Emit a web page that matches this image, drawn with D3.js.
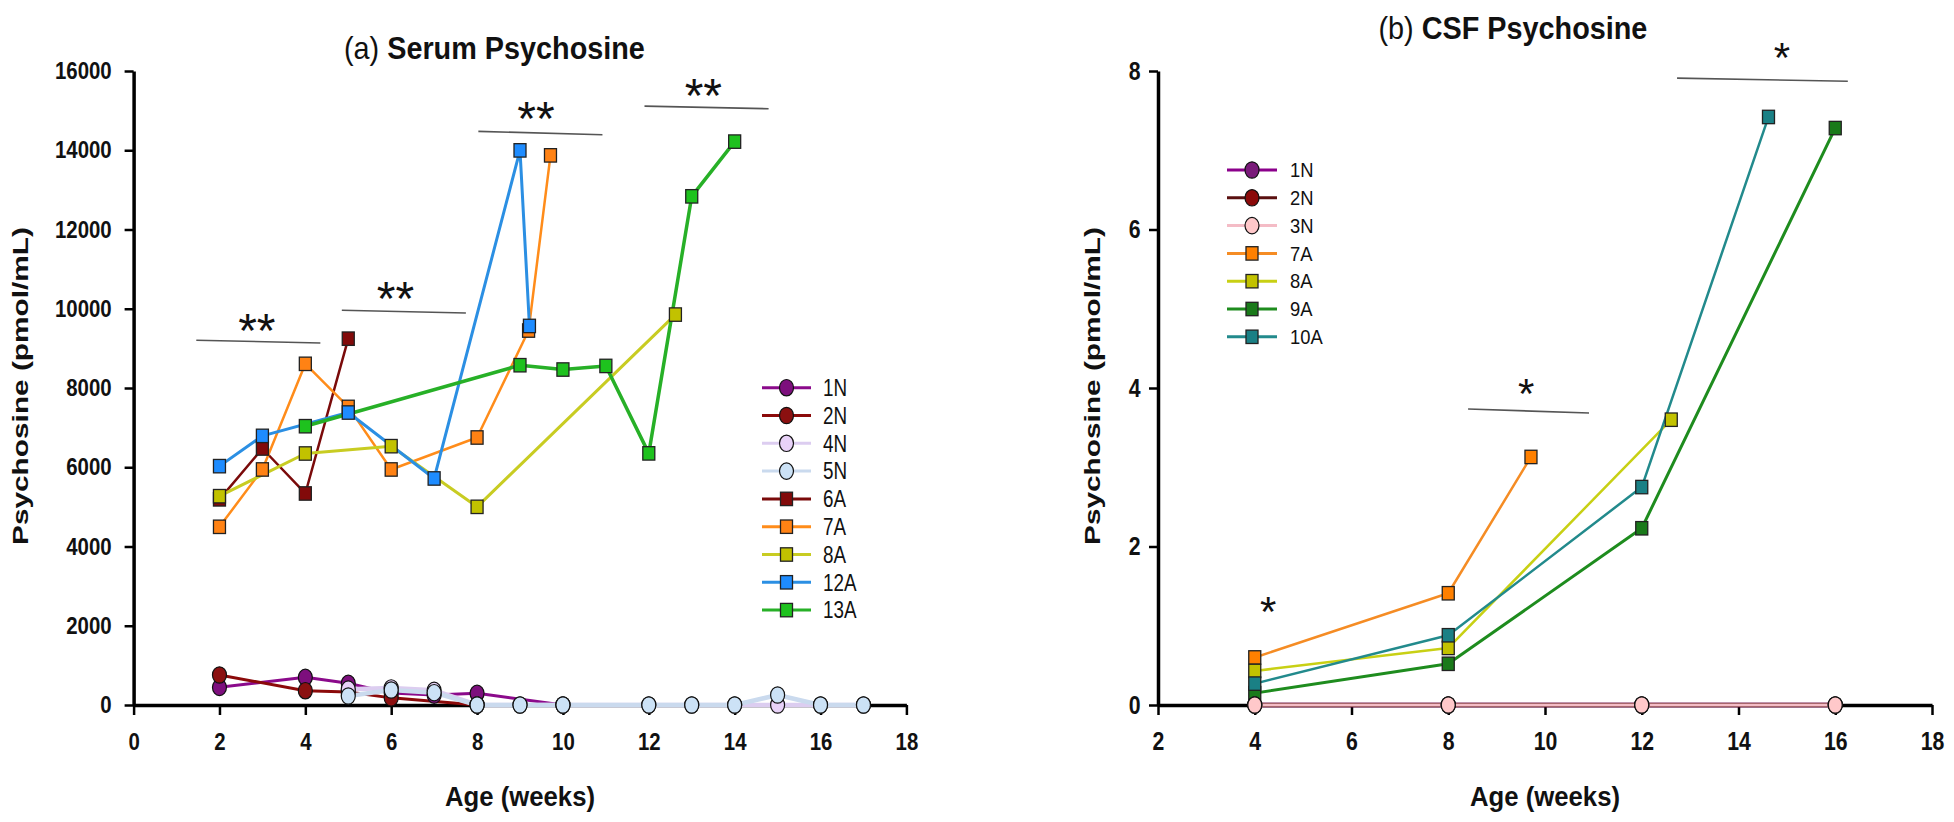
<!DOCTYPE html>
<html><head><meta charset="utf-8">
<script src="https://cdn.jsdelivr.net/npm/d3@7/dist/d3.min.js"></script>
<style>
body{margin:0;background:#fff;}
svg{display:block;font-family:"Liberation Sans",Arial,Helvetica,sans-serif;}
</style></head><body>
<svg id="chart" width="1954" height="822"></svg>
<script>
// ================= DATA =================
// ---- Panel (a) Serum Psychosine ----
const serumXTicks = [0,2,4,6,8,10,12,14,16,18];
const serumYTicks = [0,2000,4000,6000,8000,10000,12000,14000,16000];
const serumSeries = ["1N","2N","4N","5N","6A","7A","8A","12A","13A"];
const serum_1N  = [[2,446],[4,698],[5,547],[6,300],[7,250],[8,294],[10,0]];
const serum_2N  = [[2,757],[4,361],[5,330],[6,180],[8,0]];
const serum_4N  = [[5,400],[6,430],[7,370],[8,0],[9,0],[10,0],[12,0],[13,0],[14,0],[15,0],[16,0],[17,0]];
const serum_5N  = [[5,227],[6,378],[7,311],[8,0],[9,0],[10,0],[12,0],[13,0],[14,0],[15,252],[16,0],[17,0]];
const serum_6A  = [[2,5190],[3,6473],[4,5338],[5,9245]];
const serum_7A  = [[2,4497],[3,5944],[4,8610],[5,7523],[6,5944],[8,6751],[9.2,9450],[9.71,13871]];
const serum_8A  = [[2,5270],[4,6347],[6,6532],[8,5001],[12.62,9853]];
const serum_12A = [[2,6028],[3,6792],[5,7381],[7,5717],[9,13997],[9.22,9566]];
const serum_13A = [[4,7036],[9,8575],[10,8466],[11,8557],[12,6350],[13,12837],[14,14218]];
const serumSigLines = [[1.46,9205,4.35,9137],[4.85,9962,7.74,9894],[8.03,14476,10.92,14393],[11.90,15114,14.79,15048]];
const serumSigMarks = [[2.87,9710,"**"],[6.10,10517,"**"],[9.37,15056,"**"],[13.27,15636,"**"]];

// ---- Panel (b) CSF Psychosine ----
const csfXTicks = [2,4,6,8,10,12,14,16,18];
const csfYTicks = [0,2,4,6,8];
const csfSeries = ["1N","2N","3N","7A","8A","9A","10A"];
const csf_1N  = [[4,0],[8,0],[12,0],[16,0]];
const csf_2N  = [[4,0],[8,0],[12,0],[16,0]];
const csf_3N  = [[4,0],[8,0],[12,0],[16,0]];
const csf_7A  = [[4,0.60],[8,1.41],[9.71,3.13]];
const csf_8A  = [[4,0.43],[8,0.72],[12.61,3.60]];
const csf_9A  = [[4,0.15],[8,0.52],[12,2.23],[16,7.28]];
const csf_10A = [[4,0.27],[8,0.88],[12,2.75],[14.62,7.42]];
const csfSigLines = [[8.41,3.735,10.91,3.685],[12.73,7.91,16.26,7.87]];
const csfSigMarks = [[4.28,1.30,"*"],[9.61,4.04,"*"],[14.9,8.29,"*"]];

// ================= STYLES =================
const serumStyle = {
  "1N":  {line:"#8B0A8B", fill:"#7D0F7D", shape:"circle", w:3},
  "2N":  {line:"#8B0A0A", fill:"#8B1010", shape:"circle", w:3},
  "4N":  {line:"#DCCDF0", fill:"#E8D2F8", shape:"circle", w:4.5},
  "5N":  {line:"#CADAEE", fill:"#CCE2F6", shape:"circle", w:4.5},
  "6A":  {line:"#7A0A0A", fill:"#820A0A", shape:"square", w:2.5},
  "7A":  {line:"#FF8C1A", fill:"#FF8214", shape:"square", w:2.5},
  "8A":  {line:"#C8CC22", fill:"#C2C200", shape:"square", w:3},
  "12A": {line:"#2B8FE3", fill:"#1E8CFF", shape:"square", w:3},
  "13A": {line:"#27B027", fill:"#1EC21E", shape:"square", w:3.5}
};
const csfStyle = {
  "1N":  {line:"#8B008B", fill:"#7A1A7A", shape:"circle", w:4.5},
  "2N":  {line:"#5A1010", fill:"#8B0A0A", shape:"circle", w:4.5},
  "3N":  {line:"#F4BCC6", fill:"#FFC8CA", shape:"circle", w:3},
  "7A":  {line:"#F58C24", fill:"#FF8000", shape:"square", w:2.5},
  "8A":  {line:"#C8D014", fill:"#C2C200", shape:"square", w:2.5},
  "9A":  {line:"#1E8C1E", fill:"#1A7A1A", shape:"square", w:3},
  "10A": {line:"#228A8C", fill:"#1A8085", shape:"square", w:2.5}
};

const serumData = {"1N":serum_1N,"2N":serum_2N,"4N":serum_4N,"5N":serum_5N,"6A":serum_6A,"7A":serum_7A,"8A":serum_8A,"12A":serum_12A,"13A":serum_13A};
const csfData = {"1N":csf_1N,"2N":csf_2N,"3N":csf_3N,"7A":csf_7A,"8A":csf_8A,"9A":csf_9A,"10A":csf_10A};

// ================= DRAW =================
const svg = d3.select("#chart");
svg.append("rect").attr("width",1954).attr("height",822).attr("fill","#fff");
const TSX = 0.85; // horizontal squeeze of tick labels

function drawPanel(cfg){
  const x = d3.scaleLinear().domain(cfg.xDomain).range(cfg.xRange);
  const y = d3.scaleLinear().domain(cfg.yDomain).range(cfg.yRange);
  const g = svg.append("g");

  // axes
  const gx = g.append("g").attr("transform",`translate(0,${cfg.yRange[0]})`)
    .call(d3.axisBottom(x).tickValues(cfg.xTicks).tickSize(10).tickPadding(cfg.xPad).tickSizeOuter(0).tickFormat(d3.format("d")));
  const gy = g.append("g").attr("transform",`translate(${cfg.xRange[0]},0)`)
    .call(d3.axisLeft(y).tickValues(cfg.yTicks).tickSize(9).tickPadding(cfg.yPad/TSX - 9 + 9*(1/TSX - 1) + 0).tickSizeOuter(0).tickFormat(d3.format("d")));
  [gx,gy].forEach(a=>{
    a.select(".domain").attr("stroke","#000").attr("stroke-width",3.5);
    a.selectAll(".tick line").attr("stroke","#000").attr("stroke-width",2.5);
    a.selectAll(".tick text").attr("fill","#111").attr("font-size",cfg.tickFs).attr("font-weight","bold")
      .attr("font-family",'"Liberation Sans",Arial,sans-serif')
      .attr("transform",`scale(${TSX},1)`);
  });

  // lines
  const line = d3.line().x(d=>x(d[0])).y(d=>y(d[1]));
  cfg.series.forEach(k=>{
    const st = cfg.style[k];
    g.append("path").datum(cfg.data[k]).attr("d",line).attr("fill","none")
      .attr("stroke",st.line).attr("stroke-width",st.w).attr("stroke-linejoin","round");
  });
  // markers
  function marker(sel, st, cx, cy){
    if(st.shape==="circle"){
      sel.append("ellipse").attr("cx",cx).attr("cy",cy).attr("rx",7).attr("ry",8.2)
        .attr("fill",st.fill).attr("stroke","#111").attr("stroke-width",1.2);
    } else {
      sel.append("rect").attr("x",cx-6).attr("y",cy-6.7).attr("width",12).attr("height",13.4)
        .attr("fill",st.fill).attr("stroke","#222").attr("stroke-width",1.3);
    }
  }
  cfg.markerOrder.forEach(k=>{
    const st = cfg.style[k];
    cfg.data[k].forEach(d=>marker(g, st, x(d[0]), y(d[1])));
  });

  // significance
  cfg.sigLines.forEach(s=>{
    g.append("line").attr("x1",x(s[0])).attr("y1",y(s[1])).attr("x2",x(s[2])).attr("y2",y(s[3]))
      .attr("stroke","#555").attr("stroke-width",1.6);
  });
  cfg.sigMarks.forEach(s=>{
    g.append("text").attr("x",x(s[0])).attr("y",y(s[1]) + 0.562*cfg.starFs)
      .attr("text-anchor","middle").attr("font-size",cfg.starFs).attr("fill","#111").text(s[2]);
  });

  // titles / axis labels
  const t = g.append("text").attr("transform",`translate(${cfg.titleX},${cfg.titleY}) scale(0.9,1)`)
    .attr("font-size",32).attr("fill","#111");
  t.append("tspan").text(cfg.titlePre);
  t.append("tspan").attr("font-weight","bold").text(cfg.titleMain);

  const cx = (cfg.xRange[0]+cfg.xRange[1])/2;
  g.append("text").attr("x",cx).attr("y",806).attr("text-anchor","middle").attr("font-size",27)
    .attr("font-weight","bold").attr("fill","#111")
    .attr("textLength",150).attr("lengthAdjust","spacingAndGlyphs").text("Age (weeks)");
  g.append("text").attr("transform",`translate(${cfg.yLabelX},386) rotate(-90)`).attr("text-anchor","middle")
    .attr("font-size",22).attr("font-weight","bold").attr("fill","#111")
    .attr("textLength",318).attr("lengthAdjust","spacingAndGlyphs").text("Psychosine (pmol/mL)");

  // legend
  const L = cfg.legend;
  cfg.series.forEach((k,i)=>{
    const st = cfg.style[k];
    const ry = L.y0 + i*L.step;
    g.append("line").attr("x1",L.x0).attr("x2",L.x1).attr("y1",ry).attr("y2",ry)
      .attr("stroke",st.line).attr("stroke-width",3);
    marker(g, st, (L.x0+L.x1)/2, ry);
    g.append("text").attr("transform",`translate(${L.tx},${ry + 0.36*L.fs}) scale(${L.sx},1)`)
      .attr("font-size",L.fs).attr("fill","#111").text(k);
  });
}

drawPanel({
  xDomain:[0,18], xRange:[133.6,906.4], yDomain:[0,16000], yRange:[705,71],
  xTicks:serumXTicks, yTicks:serumYTicks, xPad:18, yPad:20.6, tickFs:24,
  series:serumSeries, data:serumData, style:serumStyle,
  markerOrder:["6A","7A","8A","12A","13A","1N","2N","4N","5N"],
  sigLines:serumSigLines, sigMarks:serumSigMarks, starFs:48,
  titleX:344, titleY:59, titlePre:"(a) ", titleMain:"Serum Psychosine",
  yLabelX:27.7,
  legend:{x0:762,x1:811,tx:823,y0:387.7,step:27.8,fs:23,sx:0.82}
});

drawPanel({
  xDomain:[2,18], xRange:[1158,1932], yDomain:[0,8], yRange:[705,71],
  xTicks:csfXTicks, yTicks:csfYTicks, xPad:17, yPad:16, tickFs:25,
  series:csfSeries, data:csfData, style:csfStyle,
  markerOrder:["7A","8A","9A","10A","1N","2N","3N"],
  sigLines:csfSigLines, sigMarks:csfSigMarks, starFs:42,
  titleX:1378.5, titleY:39, titlePre:"(b) ", titleMain:"CSF Psychosine",
  yLabelX:1099.7,
  legend:{x0:1227,x1:1277,tx:1290,y0:170,step:27.8,fs:20,sx:0.92}
});
</script>
</body></html>
